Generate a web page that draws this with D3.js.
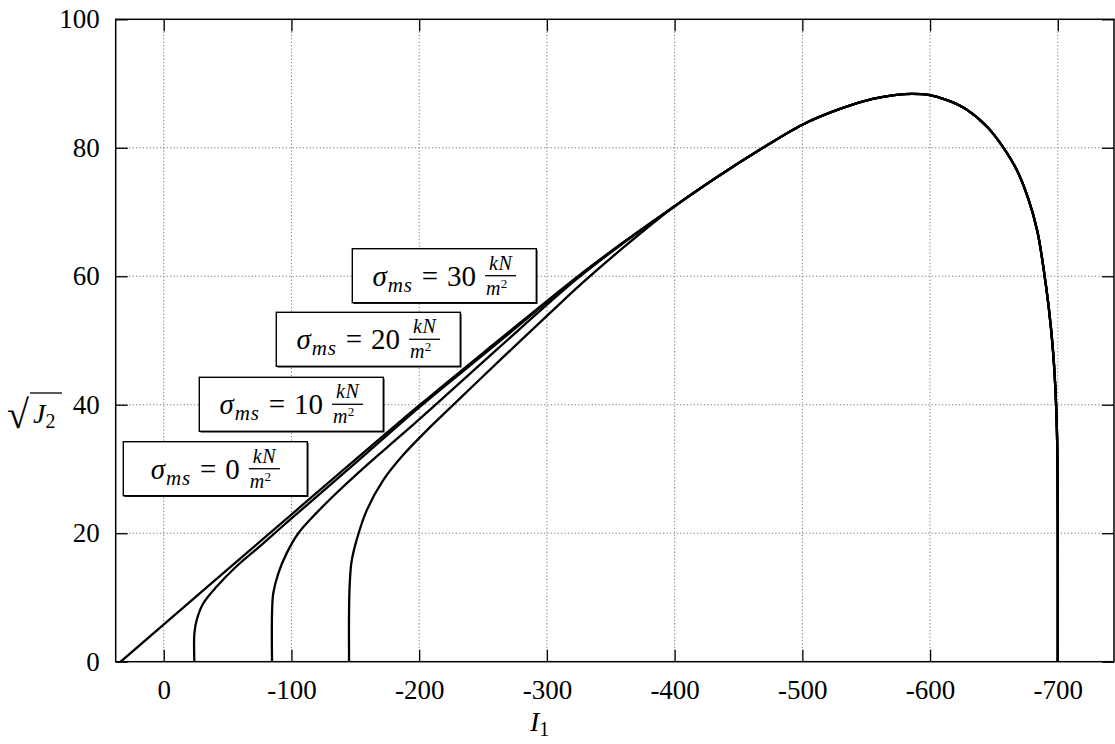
<!DOCTYPE html>
<html>
<head>
<meta charset="utf-8">
<script src="https://cdn.jsdelivr.net/npm/d3@7"></script>
<style>
  body { margin: 0; background: #fff; }
  svg text { font-family: "Liberation Serif", "DejaVu Serif", serif; fill: #000; white-space: pre; }
</style>
</head>
<body>
<svg id="chart" width="1115" height="744"></svg>
<script>
// ticks
const xTicks = [0, -100, -200, -300, -400, -500, -600, -700];
const yTicks = [0, 20, 40, 60, 80, 100];

// shared cap part (all four curves run together here)
const capI1 = [-400, -433, -466, -500, -530, -555, -572, -586, -600, -615, -629, -645, -657.5, -668, -677, -684, -689, -693, -696, -698, -699.3, -699.8, -700, -700];
const capJ  = [70.9, 75.4, 79.6, 83.6, 86.1, 87.6, 88.2, 88.4, 88.2, 87.3, 85.9, 83.2, 80.0, 76.5, 72.0, 67.0, 61.0, 55.0, 49.0, 43.0, 36, 30, 20, 0];

// lower branches
const s0I1  = [33.7, -83, -200.7, -262, -323, -360];
const s0J   = [0, 20, 40, 50, 59.8, 65.3];
const s10I1 = [-24, -24, -25.8, -31, -41.5, -57.2, -75.4, -93.7, -114.6, -150, -200.7, -262, -323, -360];
const s10J  = [0, 4.4, 6.5, 9.1, 11.7, 14.9, 18.0, 21.2, 24.8, 30.9, 39.7, 49.7, 59.7, 65.3];
const s20I1 = [-84.8, -84.8, -85.8, -89.8, -96.3, -105.4, -119.8, -135.5, -159, -185, -209, -262, -323, -360];
const s20J  = [0, 7.6, 10.7, 13.8, 16.9, 20.0, 23.2, 26.3, 30.6, 35.1, 39.3, 48.8, 59.5, 65.2];
const s30I1 = [-145.1, -145.1, -145.6, -147, -151.1, -159, -172, -187.6, -206, -224.2, -262, -302.5, -328, -360];
const s30J  = [0, 8, 12, 15.5, 19.0, 23.6, 28.3, 32.2, 36.0, 39.5, 46.7, 54.3, 59.0, 64.5];

const labels = ["0", "10", "20", "30"];

const svg = d3.select("#chart");
const pLeft = 115.7, pTop = 19.3, pRight = 1114, pBottom = 661.7;

const x = d3.scaleLinear().domain([37.6, -744]).range([pLeft, pRight]);
const y = d3.scaleLinear().domain([0, 100]).range([pBottom, pTop]);

// grid
const grid = svg.append("g")
  .attr("stroke", "#777")
  .attr("stroke-width", 1)
  .attr("stroke-dasharray", "1.2,2.2");
grid.selectAll(".vx").data(xTicks).enter().append("line")
  .attr("x1", d => x(d)).attr("x2", d => x(d))
  .attr("y1", pBottom).attr("y2", pTop);
grid.selectAll(".hy").data(yTicks.filter(d => d > 0 && d < 100)).enter().append("line")
  .attr("x1", pLeft).attr("x2", pRight)
  .attr("y1", d => y(d)).attr("y2", d => y(d));

// axes with inward ticks
const fmt = d => String(d);
const gx = svg.append("g").attr("transform", `translate(0,${pBottom})`)
  .call(d3.axisBottom(x).tickValues(xTicks).tickSize(-12).tickPadding(18).tickFormat(fmt));
const gy = svg.append("g").attr("transform", `translate(${pLeft},0)`)
  .call(d3.axisLeft(y).tickValues(yTicks).tickSize(-12).tickPadding(16).tickFormat(fmt));
const gxt = svg.append("g").attr("transform", `translate(0,${pTop})`)
  .call(d3.axisTop(x).tickValues(xTicks).tickSize(-12).tickFormat(""));
const gyr = svg.append("g").attr("transform", `translate(${pRight},0)`)
  .call(d3.axisRight(y).tickValues(yTicks).tickSize(-12).tickFormat(""));

[gx, gy, gxt, gyr].forEach(g => {
  g.select(".domain").remove();
  g.selectAll(".tick line").attr("stroke", "#000").attr("stroke-width", 1.3);
  g.selectAll("text").attr("font-size", 27).attr("font-family", "Liberation Serif");
});

// frame
svg.append("rect")
  .attr("x", pLeft).attr("y", pTop)
  .attr("width", pRight - pLeft).attr("height", pBottom - pTop)
  .attr("fill", "none").attr("stroke", "#000").attr("stroke-width", 1.5);

// curves
function series(hI1, hJ) {
  const pts = hI1.map((v, i) => [v, hJ[i]]);
  capI1.forEach((v, i) => pts.push([v, capJ[i]]));
  return pts;
}
const curves = [series(s0I1, s0J), series(s10I1, s10J), series(s20I1, s20J), series(s30I1, s30J)];

const line = d3.line()
  .x(d => x(d[0])).y(d => y(d[1]))
  .curve(d3.curveCatmullRom.alpha(0.5));

svg.append("defs").append("clipPath").attr("id", "clip")
  .append("rect").attr("x", pLeft).attr("y", pTop)
  .attr("width", pRight - pLeft).attr("height", pBottom - pTop);

svg.append("g").attr("clip-path", "url(#clip)")
  .selectAll("path").data(curves).enter().append("path")
  .attr("d", line)
  .attr("fill", "none")
  .attr("stroke", "#000")
  .attr("stroke-width", 2.3)
  .attr("stroke-linejoin", "round");

// label boxes
const boxes = [
  { x: 123.3, y: 441.7 },
  { x: 199.3, y: 377.3 },
  { x: 276.3, y: 312.3 },
  { x: 352.3, y: 248.7 }
];
const bw = 184, bh = 54;

boxes.forEach((b, i) => {
  const g = svg.append("g");
  g.append("rect")
    .attr("x", b.x + 1.2).attr("y", b.y + 1.2)
    .attr("width", bw).attr("height", bh)
    .attr("fill", "#000");
  g.append("rect")
    .attr("x", b.x).attr("y", b.y)
    .attr("width", bw).attr("height", bh)
    .attr("fill", "#fff").attr("stroke", "#000").attr("stroke-width", 1.4);

  const cy = b.y + bh / 2;
  // sigma_ms = n
  const t = g.append("text").attr("y", cy + 10).attr("font-size", 29);
  t.append("tspan").attr("font-style", "italic").text("σ");
  t.append("tspan").attr("font-style", "italic").attr("font-size", 21)
    .attr("dx", 1).attr("dy", 6).attr("letter-spacing", 0.8).text("ms");
  t.append("tspan").attr("dy", -6).attr("dx", 9).text("=");
  t.append("tspan").attr("dx", 9).text(labels[i]);
  const tw = t.node().getComputedTextLength() + 19;

  // fraction kN over m^2
  const fw = 31, gap = 9;
  const x0 = b.x + (bw - (tw + gap + fw)) / 2;
  t.attr("x", x0);
  const fc = x0 + tw + gap + fw / 2;

  g.append("text").attr("x", fc).attr("y", cy - 6)
    .attr("font-size", 20).attr("text-anchor", "middle")
    .attr("font-style", "italic").attr("letter-spacing", 0.5).text("kN");
  const den = g.append("text").attr("x", fc - 4).attr("y", cy + 19)
    .attr("font-size", 20).attr("text-anchor", "middle");
  den.append("tspan").attr("font-style", "italic").text("m");
  den.append("tspan").attr("font-size", 13).attr("dx", 0.5).attr("dy", -7).text("2");

  g.append("line")
    .attr("x1", fc - fw / 2).attr("x2", fc + fw / 2)
    .attr("y1", cy).attr("y2", cy)
    .attr("stroke", "#000").attr("stroke-width", 1.3);
});

// axis titles
const xt = svg.append("text").attr("x", 530).attr("y", 731).attr("font-size", 28);
xt.append("tspan").attr("font-style", "italic").text("I");
xt.append("tspan").attr("font-size", 20).attr("dy", 5).text("1");

const yt = svg.append("g");
yt.append("text").attr("x", 7).attr("y", 428).attr("font-size", 40)
  .attr("font-family", "DejaVu Serif").text("√");
const yj = yt.append("text").attr("x", 33).attr("y", 423).attr("font-size", 28);
yj.append("tspan").attr("font-style", "italic").text("J");
yj.append("tspan").attr("font-size", 20).attr("dy", 5).text("2");
yt.append("line")
  .attr("x1", 30).attr("x2", 62).attr("y1", 393).attr("y2", 393)
  .attr("stroke", "#000").attr("stroke-width", 1.3);
</script>
</body>
</html>
